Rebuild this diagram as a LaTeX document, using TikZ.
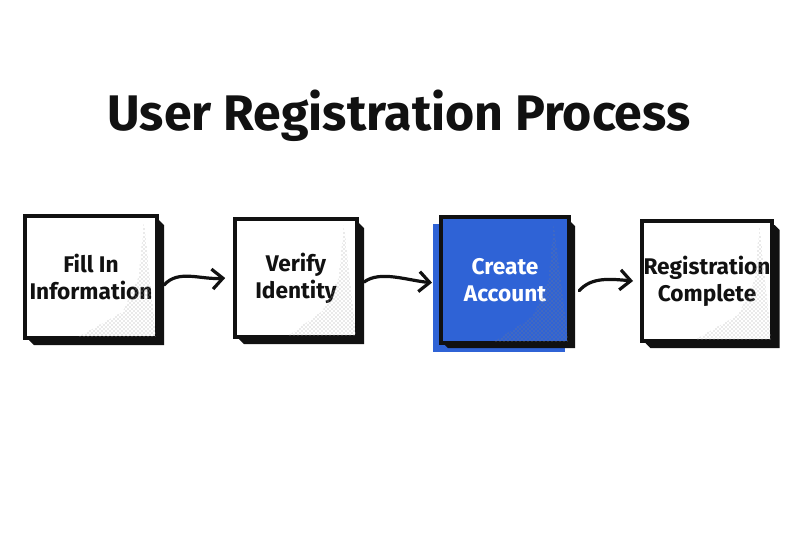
\documentclass[tikz,border=0pt]{standalone}
\usepackage{fontspec}
\setmainfont{Fira Sans}
\usetikzlibrary{arrows.meta,patterns,calc}
\definecolor{boxblue}{HTML}{2F63D6}
\definecolor{inkk}{HTML}{111111}
\tikzset{
  stepbox/.style={draw=inkk,line width=2.2pt,fill=white,minimum width=#1,align=center,
     font=\fontsize{17}{20}\selectfont\bfseries,text=inkk,inner sep=0pt},
  flowarrow/.style={draw=inkk,line width=2.4pt,line cap=round,
     -{Straight Barb[length=8pt,width=15pt,line width=2.4pt]}},
}
\begin{document}
\begin{tikzpicture}[x=0.75pt,y=-0.75pt]
\useasboundingbox[fill=white] (0,0) rectangle (800,533);
\node[font=\fontsize{37.5}{44}\selectfont\bfseries,text=inkk] (title) at (399,116) {User Registration Process};

\newcommand{\mybox}[6]{% name, cx, cy, w, h, text
  \fill[inkk] ($(#2,#3)+(-#4/2+3,-#5/2+3)$) -- ++(#4,0) -- ++(5,5) -- ++(0,#5) -- ++(-#4,0) -- ++(-5,-5) -- cycle;
  \node[stepbox=#4*0.75pt,minimum height=#5*0.75pt] (#1) at (#2,#3) {#6};
}
\mybox{a}{91}{277}{130}{120}{Fill In\\Information}
\mybox{b}{296}{278}{120}{116}{Verify\\Identity}
\fill[boxblue] (433,224) rectangle (565,352);
\fill[inkk] (444,222) -- (571,222) -- (575,226) -- (575,348) -- (448,348) -- (444,344) -- cycle;
\node[draw=inkk,line width=2.2pt,fill=boxblue,minimum width=127*0.75pt,minimum height=124*0.75pt,
      inner sep=0pt,align=center,font=\fontsize{17}{20}\selectfont\bfseries,text=white] (c) at (505,280) {Create\\Account};
\mybox{d}{707}{281}{129}{118}{Registration\\Complete}

\foreach \n in {a,b,d}{
  \fill[pattern=crosshatch dots,pattern color=gray!70] ($(\n.north east)+(-10pt,-4pt)$) -- ($(\n.south east)+(-1pt,1pt)$) -- ($(\n.south west)+(40pt,1pt)$) -- ($(\n.south east)+(-26pt,20pt)$) -- ($(\n.east)+(-14pt,0pt)$) -- cycle;
}
\fill[pattern=crosshatch dots,pattern color=black!50] ($(c.north east)+(-12pt,-6pt)$) -- ($(c.south east)+(-1pt,1pt)$) -- ($(c.south west)+(40pt,1pt)$) -- ($(c.south east)+(-28pt,20pt)$) -- ($(c.east)+(-16pt,0pt)$) -- cycle;
\foreach \n in {a,b,c,d}{\draw[inkk,line width=2.2pt] (\n.north west) rectangle (\n.south east);}

\draw[flowarrow] ($(a.east)+(5pt,-6pt)$) .. controls +(14,-16) and +(-24,2) .. ($(b.west)+(-7pt,0pt)$);
\draw[flowarrow] ($(b.east)+(5pt,-3pt)$) .. controls +(16,-12) and +(-24,-2) .. ($(c.west)+(-6pt,-2pt)$);
\draw[flowarrow] ($(c.east)+(7pt,-8pt)$) .. controls +(12,-14) and +(-22,-2) .. ($(d.west)+(-6pt,0pt)$);
\end{tikzpicture}
\end{document}
